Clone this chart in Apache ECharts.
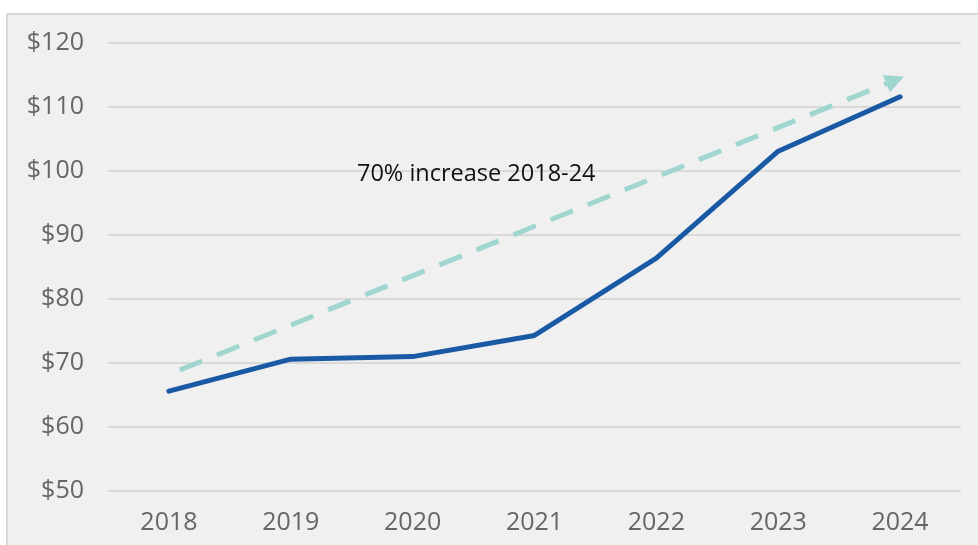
<!DOCTYPE html>
<html>
<head>
<meta charset="utf-8">
<script src="https://cdn.jsdelivr.net/npm/echarts@6/dist/echarts.min.js"></script>
<style>
  html, body { margin: 0; padding: 0; background: #ffffff; }
  #chart { width: 978px; height: 545px; }
</style>
</head>
<body>
<div id="chart"></div>
<script>
// Annual values, 2018-2024
const years = ['2018', '2019', '2020', '2021', '2022', '2023', '2024'];
const values = [65.6, 70.6, 71.0, 74.3, 86.4, 103.1, 111.6];

// Value-axis ticks
const yTicks = [50, 60, 70, 80, 90, 100, 110, 120];

// Trend arrow endpoints: [category position, value]
const trendStart = [0.09, 68.9];
const trendEnd = [5.96, 114.2];
const trendLabel = '70% increase 2018-24';

const chart = echarts.init(document.getElementById('chart'), null, { renderer: 'canvas' });

const font = '"Open Sans", "Noto Sans", sans-serif';

chart.setOption({
  animation: false,
  backgroundColor: '#ffffff',
  graphic: [
    {
      type: 'rect',
      z: -10,
      shape: { x: 7, y: 14, width: 990, height: 560 },
      style: { fill: '#f0f0f0', stroke: '#d9d9d9', lineWidth: 2 }
    },
    {
      type: 'text',
      left: 357,
      top: 162,
      z: 10,
      style: { text: trendLabel, fill: '#111111', font: '23.5px ' + font }
    }
  ],
  grid: { left: 108, right: 17, top: 43, bottom: 54 },
  xAxis: [
    {
      type: 'category',
      data: years,
      boundaryGap: true,
      axisLine: { show: false },
      axisTick: { show: false },
      axisLabel: { color: '#666666', fontSize: 25, fontFamily: font, margin: 19 }
    },
    {
      type: 'value',
      min: -0.5,
      max: 6.5,
      show: false
    }
  ],
  yAxis: {
    type: 'value',
    min: yTicks[0],
    max: yTicks[yTicks.length - 1],
    interval: 10,
    axisLine: { show: false },
    axisTick: { show: false },
    splitLine: { lineStyle: { color: '#d9d9d9', width: 2 } },
    axisLabel: {
      color: '#666666', fontSize: 25, fontFamily: font, margin: 24,
      formatter: v => '$' + v
    }
  },
  series: [
    {
      type: 'line',
      xAxisIndex: 1,
      data: [],
      silent: true,
      markLine: {
        silent: true,
        animation: false,
        symbol: ['none', 'triangle'],
        symbolSize: [19, 19],
        label: { show: false },
        lineStyle: { color: '#a0d6d0', width: 5, type: [24, 16], cap: 'butt' },
        data: [[{ coord: trendStart }, { coord: trendEnd }]]
      }
    },
    {
      type: 'line',
      data: values,
      showSymbol: false,
      symbol: 'none',
      lineStyle: { color: '#1a5aa5', width: 5, cap: 'round', join: 'round' },
      z: 5
    }
  ]
});
</script>
</body>
</html>
